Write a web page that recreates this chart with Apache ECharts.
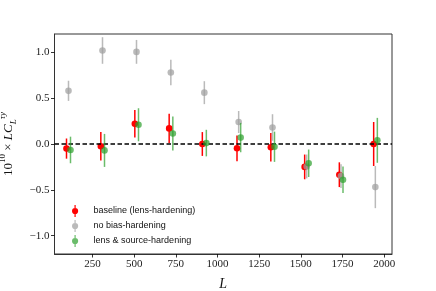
<!DOCTYPE html>
<html>
<head>
<meta charset="utf-8">
<script src="https://cdn.jsdelivr.net/npm/echarts@6/dist/echarts.min.js"></script>
<style>html,body{margin:0;padding:0;background:#fff}#c{width:436px;height:291px}</style>
</head>
<body>
<div id="c"></div>
<script>
// ---- data ----
var seriesNames = ['baseline (lens-hardening)', 'no bias-hardening', 'lens & source-hardening'];
var L_base = [94, 300, 504, 710, 909, 1117, 1320, 1523, 1731, 1937];
var L_nobh = [106, 310, 514, 720, 921, 1127, 1330, 1535, 1741, 1947];
var L_lsh  = [118, 322, 526, 732, 933, 1139, 1342, 1547, 1753, 1959];
var val_base = [-0.05, -0.025, 0.22, 0.17, 0.0, -0.047, -0.035, -0.25, -0.335, 0.0];
var err_base = [0.11, 0.155, 0.15, 0.16, 0.13, 0.14, 0.155, 0.135, 0.135, 0.24];
var val_nobh = [0.58, 1.02, 1.005, 0.78, 0.56, 0.24, 0.18, -0.245, -0.35, -0.47];
var err_nobh = [0.11, 0.145, 0.13, 0.14, 0.125, 0.12, 0.145, 0.13, 0.13, 0.23];
var val_lsh  = [-0.065, -0.07, 0.21, 0.115, 0.01, 0.07, -0.03, -0.21, -0.39, 0.04];
var err_lsh  = [0.145, 0.18, 0.18, 0.185, 0.145, 0.16, 0.165, 0.15, 0.145, 0.245];
var xTicks = [250, 500, 750, 1000, 1250, 1500, 1750, 2000];
var yTicks = [-1.0, -0.5, 0.0, 0.5, 1.0];

var colors = ['#ff0000', 'rgba(160,160,160,0.72)', 'rgba(44,160,44,0.7)'];

function zip(L, v, e) { return L.map(function (x, i) { return [x, v[i], e[i]]; }); }

function errRender(color) {
  return function (params, api) {
    var x = api.value(0), y = api.value(1), e = api.value(2);
    var p = api.coord([x, y]);
    var top = api.coord([x, y + e]);
    var bot = api.coord([x, y - e]);
    return {
      type: 'group',
      children: [
        { type: 'line', shape: { x1: p[0], y1: top[1], x2: p[0], y2: bot[1] },
          style: { stroke: color, lineWidth: 1.5 } },
        { type: 'circle', shape: { cx: p[0], cy: p[1], r: 3.3 },
          style: { fill: color } }
      ]
    };
  };
}

var iconPath = 'path://M4.3,0H5.7V14H4.3Z M8.6,7A3.6,3.6,0,1,1,1.4,7A3.6,3.6,0,1,1,8.6,7Z';
var serif = '"Liberation Serif", "DejaVu Serif", serif';

var datasets = [zip(L_base, val_base, err_base), zip(L_nobh, val_nobh, err_nobh), zip(L_lsh, val_lsh, err_lsh)];

var series = datasets.map(function (d, i) {
  return {
    name: seriesNames[i],
    type: 'custom',
    renderItem: errRender(colors[i]),
    data: d,
    itemStyle: { color: colors[i] },
    encode: { x: 0, y: 1 },
    z: 3 + i
  };
});
series.push({
  type: 'line',
  data: [],
  silent: true,
  z: 2,
  markLine: {
    silent: true,
    symbol: ['none', 'none'],
    label: { show: false },
    lineStyle: { color: '#000', width: 1.5, type: [4.5, 2.5] },
    data: [{ yAxis: 0 }]
  }
});

var chart = echarts.init(document.getElementById('c'), null, { renderer: 'canvas' });
chart.setOption({
  animation: false,
  backgroundColor: '#fff',
  grid: { left: 54.5, right: 44, top: 34, bottom: 37, show: true, borderColor: '#333', borderWidth: 1,
    backgroundColor: 'transparent', containLabel: false, outerBoundsMode: 'none' },
  legend: {
    orient: 'vertical',
    left: 67, top: 200,
    itemWidth: 27, itemHeight: 12, itemGap: 3,
    icon: iconPath,
    data: seriesNames,
    textStyle: { fontFamily: '"Liberation Sans", Arial, sans-serif', fontSize: 9, color: '#111' }
  },
  xAxis: {
    type: 'value', min: 22, max: 2047,
    splitLine: { show: false },
    axisLine: { show: true, onZero: false, lineStyle: { color: '#333', width: 1 } },
    axisTick: { show: true, length: 3.5, customValues: xTicks, lineStyle: { color: '#000', width: 0.8 } },
    axisLabel: { customValues: xTicks, fontFamily: serif, fontSize: 11, color: '#222', margin: 5,
      formatter: function (v) { return String(Math.round(v)); } },
    name: 'L', nameLocation: 'middle', nameGap: 23,
    nameTextStyle: { fontFamily: serif, fontStyle: 'italic', fontSize: 14, color: '#111' }
  },
  yAxis: {
    type: 'value', min: -1.2, max: 1.2,
    splitLine: { show: false },
    axisLine: { show: true, onZero: false, lineStyle: { color: '#333', width: 1 } },
    axisTick: { show: true, length: 3.5, customValues: yTicks, lineStyle: { color: '#000', width: 0.8 } },
    axisLabel: { customValues: yTicks, fontFamily: serif, fontSize: 11, color: '#222', margin: 5,
      formatter: function (v) { return (v < 0 ? '\u2212' : '') + Math.abs(v).toFixed(1); } },
    name: '{n|10}{supn|10}{n| \u00d7 }{i|LC}{sub|L}{sup|\u03c4y}',
    nameLocation: 'middle', nameGap: 36, nameRotate: 90,
    nameTextStyle: {
      fontFamily: serif, fontSize: 13, color: '#111',
      rich: {
        n: { fontFamily: serif, fontSize: 13, lineHeight: 20, verticalAlign: 'middle' },
        i: { fontFamily: serif, fontSize: 13, fontStyle: 'italic', lineHeight: 20, verticalAlign: 'middle' },
        supn: { fontFamily: serif, fontSize: 9, lineHeight: 12, verticalAlign: 'top' },
        sup: { fontFamily: serif, fontSize: 9, fontStyle: 'italic', lineHeight: 12, verticalAlign: 'top' },
        sub: { fontFamily: serif, fontSize: 9, fontStyle: 'italic', lineHeight: 10, verticalAlign: 'bottom' }
      }
    }
  },
  series: series
});
</script>
</body>
</html>
